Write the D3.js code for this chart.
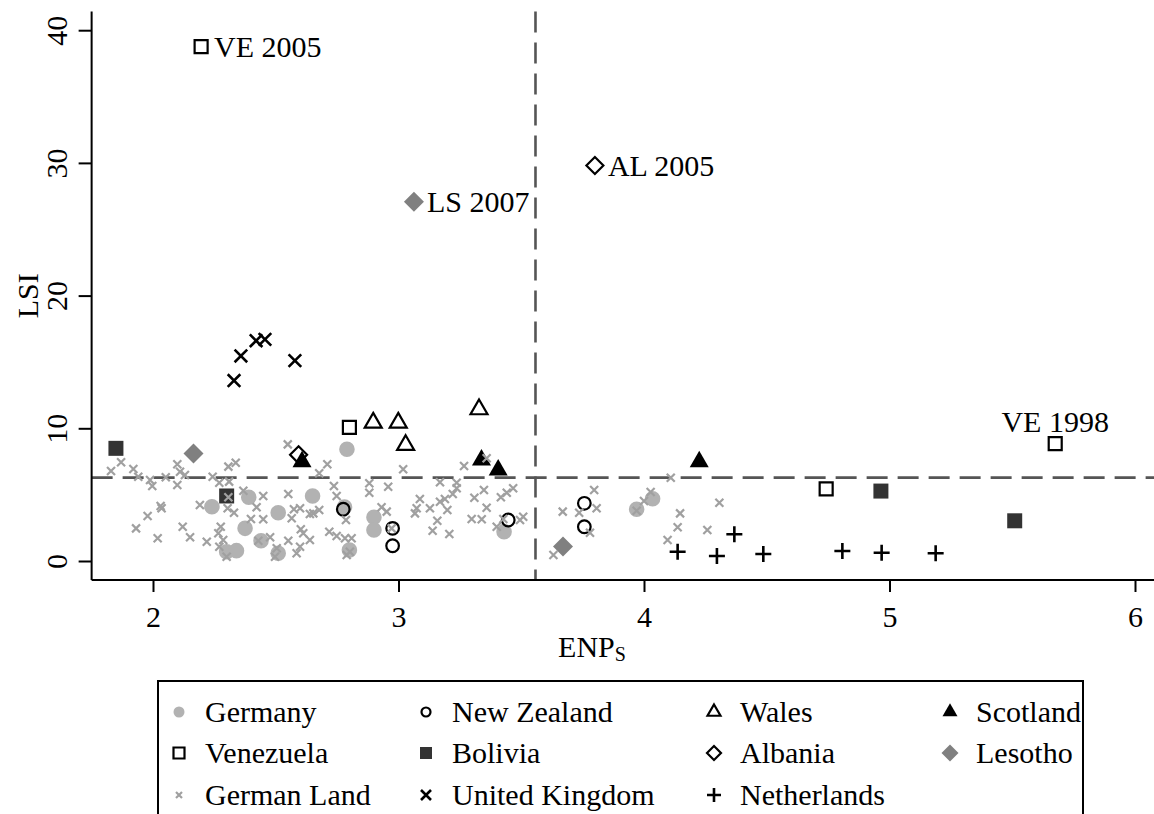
<!DOCTYPE html>
<html>
<head>
<meta charset="utf-8">
<script src="https://cdn.jsdelivr.net/npm/d3@7/dist/d3.min.js"></script>
<style>
  html, body { margin: 0; padding: 0; background: #fff; }
  svg { display: block; }
  text { font-family: "Liberation Serif", "Times New Roman", serif; fill: #000; }
</style>
</head>
<body>
<svg id="chart" width="1154" height="814"></svg>
<script>
// ---------------- DATA ----------------
const xTicks = [2, 3, 4, 5, 6];
const yTicks = [0, 10, 20, 30, 40];
const xLabel = "ENP";
const xLabelSub = "S";
const yLabel = "LSI";
const refENP = 3.558;   // vertical dashed reference line
const refLSI = 6.28;    // horizontal dashed reference line

const germany = [[2.24,4.09],[2.39,4.80],[2.375,2.46],[2.30,0.70],[2.34,0.78],[2.44,1.53],[2.51,0.58],
  [2.51,3.64],[2.65,4.90],[2.79,8.42],[2.78,4.07],[2.80,0.83],[2.90,3.29],[2.90,2.34],[3.43,2.21],
  [3.97,3.90],[4.035,4.69]];
const newZealand = [[2.775,3.90],[2.976,2.46],[2.976,1.15],[3.447,3.09],[3.757,4.35],[3.757,2.58]];
const wales = [[2.897,10.42],[2.999,10.42],[3.328,11.43],[3.029,8.74]];
const scotland = [[2.607,7.48],[3.338,7.61],[3.406,6.86],[4.225,7.48]];
const venezuela = [[2.196,38.76],[2.80,10.07],[4.742,5.43],[5.675,8.84]];
const bolivia = [[1.849,8.49],[2.30,4.90],[4.965,5.27],[5.51,3.03]];
const albania = [[2.593,8.0],[3.80,29.8]];
const lesotho = [[2.165,8.1],[3.063,27.08],[3.67,1.1]];
const unitedKingdom = [[2.33,13.6],[2.358,15.45],[2.42,16.6],[2.456,16.7],[2.578,15.1]];
const netherlands = [[4.137,0.70],[4.297,0.38],[4.368,2.02],[4.486,0.53],[4.808,0.75],[4.968,0.62],[5.188,0.58]];
const germanLand = [[1.870,7.44],[1.829,6.78],[1.920,6.93],[1.940,6.35],[1.988,6.10],[1.997,5.65],[2.052,6.31],
  [2.099,7.29],[2.110,6.73],[2.130,6.48],[2.099,5.73],[2.243,6.35],[2.270,5.90],[2.307,7.11],[2.337,7.41],
  [2.310,5.98],[2.368,5.30],[2.031,4.14],[2.035,3.97],[1.978,3.39],[1.931,2.46],[2.019,1.71],[2.121,2.58],
  [2.151,1.79],[2.191,4.22],[2.219,1.45],[2.276,2.58],[2.266,2.09],[2.286,1.58],[2.304,3.97],[2.330,3.64],
  [2.307,4.80],[2.449,4.90],[2.422,4.05],[2.399,3.17],[2.449,3.14],[2.270,1.08],[2.300,0.32],[2.429,1.53],
  [2.477,1.79],[2.504,0.96],[2.497,0.32],[2.551,5.05],[2.551,1.53],[2.565,3.22],[2.574,3.90],[2.599,3.97],
  [2.602,2.39],[2.612,2.09],[2.639,1.58],[2.599,1.08],[2.585,0.58],[2.639,3.54],[2.677,3.84],[2.653,3.59],
  [2.677,6.61],[2.710,7.29],[2.549,8.79],[2.737,5.65],[2.748,4.90],[2.718,2.21],[2.748,1.88],[2.786,3.09],
  [2.782,1.71],[2.789,0.45],[3.019,6.91],[3.267,7.16],[3.359,7.74],[2.881,5.86],[2.881,5.15],[2.958,5.60],
  [3.169,5.93],[3.237,5.90],[3.237,5.48],[3.221,5.05],[3.087,4.67],[3.189,4.67],[3.169,4.47],[3.074,3.97],
  [3.067,3.59],[3.128,3.97],[3.199,3.84],[2.931,4.05],[2.952,3.72],[3.158,3.04],[3.139,2.28],[3.207,2.03],
  [3.309,4.77],[3.348,5.35],[3.359,4.02],[3.417,4.80],[3.441,5.15],[3.467,5.48],[3.298,3.17],[3.339,3.14],
  [3.400,2.58],[3.427,3.17],[3.495,3.09],[3.508,3.34],[2.809,1.71],[2.802,0.70],[2.972,2.46],[3.631,0.45],
  [3.797,5.35],[3.669,3.72],[3.736,3.64],[3.807,3.97],[3.780,2.13],[3.970,3.79],[4.000,4.52],[4.027,5.20],
  [4.109,6.28],[4.147,3.59],[4.137,2.54],[4.096,1.58],[4.258,2.34],[4.307,4.39]];

const annotations = [
  {text: "VE 2005", x: 2.196, y: 38.76, pos: "right"},
  {text: "LS 2007", x: 3.063, y: 27.08, pos: "right"},
  {text: "AL 2005", x: 3.80, y: 29.8, pos: "right"},
  {text: "VE 1998", x: 5.675, y: 8.84, pos: "above"}
];

const legendNames = ["Germany","New Zealand","Wales","Scotland","Venezuela","Bolivia","Albania","Lesotho",
  "German Land","United Kingdom","Netherlands"];

// ---------------- STYLES ----------------
const styles = {
  "Germany":        {shape: "circle",  size: 7.8, fill: "#b2b2b2", stroke: "none", sw: 0, lsize: 5.5},
  "New Zealand":    {shape: "circle",  size: 6.3, fill: "none", stroke: "#000", sw: 2.2, lsize: 4.5},
  "Wales":          {shape: "triangle",size: 8.5, fill: "none", stroke: "#000", sw: 2.2, lsize: 6.5},
  "Scotland":       {shape: "triangle",size: 9.5, fill: "#000", stroke: "none", sw: 0, lsize: 7.5},
  "Venezuela":      {shape: "square",  size: 6.5, fill: "none", stroke: "#000", sw: 2.2, lsize: 5.5},
  "Bolivia":        {shape: "square",  size: 7.5, fill: "#333", stroke: "none", sw: 0, lsize: 6},
  "Albania":        {shape: "diamond", size: 8.5, fill: "none", stroke: "#000", sw: 2.2, lsize: 7},
  "Lesotho":        {shape: "diamond", size: 10,  fill: "#808080", stroke: "none", sw: 0, lsize: 8.5},
  "German Land":    {shape: "x",       size: 4,   fill: "none", stroke: "#a0a0a0", sw: 2.2, lsize: 3},
  "United Kingdom": {shape: "x",       size: 6.3, fill: "none", stroke: "#000", sw: 2.6, lsize: 5},
  "Netherlands":    {shape: "plus",    size: 8,   fill: "none", stroke: "#000", sw: 2.6, lsize: 7}
};

function shapePath(shape, s) {
  switch (shape) {
    case "circle": return `M${s},0A${s},${s},0,1,1,${-s},0A${s},${s},0,1,1,${s},0Z`;
    case "square": return `M${-s},${-s}H${s}V${s}H${-s}Z`;
    case "triangle": { const h = s * 1.732; return `M0,${-h*2/3}L${s},${h/3}L${-s},${h/3}Z`; }
    case "diamond": return `M0,${-s}L${s},0L0,${s}L${-s},0Z`;
    case "x": return `M${-s},${-s}L${s},${s}M${-s},${s}L${s},${-s}`;
    case "plus": return `M${-s},0H${s}M0,${-s}V${s}`;
  }
}

// ---------------- CHART ----------------
const svg = d3.select("#chart");
const x = d3.scaleLinear().domain([2, 6]).range([153, 1135]);
const y = d3.scaleLinear().domain([0, 40]).range([561, 30.2]);
const xMin = 1.75, xMax = 6.08, yMin = -1.43, yMax = 41.4;

const FS = 30;

// reference lines
svg.append("line")
  .attr("x1", x(xMin)).attr("x2", x(xMax)).attr("y1", y(refLSI)).attr("y2", y(refLSI))
  .attr("stroke", "#555").attr("stroke-width", 2.6).attr("stroke-dasharray", "21,10");
svg.append("line")
  .attr("x1", x(refENP)).attr("x2", x(refENP)).attr("y1", y(yMax)).attr("y2", y(yMin))
  .attr("stroke", "#555").attr("stroke-width", 2.6).attr("stroke-dasharray", "21,10");

// axes
const xAxis = d3.axisBottom(x).tickValues(xTicks).tickSize(12).tickSizeOuter(0).tickPadding(14).tickFormat(d3.format("d"));
const gx = svg.append("g").attr("transform", `translate(0,${y(yMin)})`).call(xAxis);
gx.select(".domain").remove();
gx.selectAll(".tick line").attr("stroke", "#000").attr("stroke-width", 2);
gx.selectAll(".tick text").attr("font-size", FS).attr("font-family", "Liberation Serif").attr("fill", "#000");
svg.append("line").attr("x1", x(xMin)).attr("x2", x(xMax)).attr("y1", y(yMin)).attr("y2", y(yMin))
  .attr("stroke", "#000").attr("stroke-width", 2);

const yAxis = d3.axisLeft(y).tickValues(yTicks).tickSize(13).tickSizeOuter(0).tickFormat(d3.format("d"));
const gy = svg.append("g").attr("transform", `translate(${x(xMin)},0)`).call(yAxis);
gy.select(".domain").remove();
gy.selectAll(".tick line").attr("stroke", "#000").attr("stroke-width", 2);
gy.selectAll(".tick text")
  .attr("font-size", FS).attr("font-family", "Liberation Serif").attr("fill", "#000")
  .attr("x", null).attr("dy", null)
  .attr("text-anchor", "middle")
  .attr("transform", "translate(-25,0) rotate(-90)");
svg.append("line").attr("x1", x(xMin)).attr("x2", x(xMin)).attr("y1", y(yMin)).attr("y2", y(yMax))
  .attr("stroke", "#000").attr("stroke-width", 2);

// axis titles
const xt = svg.append("text").attr("x", 592).attr("y", 657)
  .attr("text-anchor", "middle").attr("font-size", FS);
xt.append("tspan").text(xLabel);
xt.append("tspan").text(xLabelSub).attr("font-size", 20).attr("dy", 4);
svg.append("text").attr("transform", `translate(38,${(y(yMin) + y(yMax)) / 2}) rotate(-90)`)
  .attr("text-anchor", "middle").attr("font-size", FS).text(yLabel);

// series
const seriesData = {
  "Germany": germany, "New Zealand": newZealand, "Wales": wales, "Scotland": scotland,
  "Venezuela": venezuela, "Bolivia": bolivia, "Albania": albania, "Lesotho": lesotho,
  "United Kingdom": unitedKingdom, "Netherlands": netherlands, "German Land": germanLand
};
const drawOrder = ["Germany","New Zealand","Wales","Scotland","Venezuela","Bolivia","Albania","Lesotho",
  "United Kingdom","Netherlands","German Land"];

drawOrder.forEach(name => {
  const st = styles[name];
  svg.append("g").selectAll("path").data(seriesData[name]).join("path")
    .attr("transform", d => `translate(${x(d[0])},${y(d[1])})`)
    .attr("d", shapePath(st.shape, st.size))
    .attr("fill", st.fill).attr("stroke", st.stroke).attr("stroke-width", st.sw)
    .attr("stroke-linejoin", "miter");
});

// annotations
svg.append("g").selectAll("text").data(annotations).join("text")
  .attr("x", d => d.pos === "right" ? x(d.x) + 13 : x(d.x))
  .attr("y", d => d.pos === "right" ? y(d.y) + 10 : y(d.y) - 12)
  .attr("text-anchor", d => d.pos === "right" ? "start" : "middle")
  .attr("font-size", FS)
  .text(d => d.text);

// legend
const legend = svg.append("g");
legend.append("rect").attr("x", 158).attr("y", 681).attr("width", 925).attr("height", 160)
  .attr("fill", "none").attr("stroke", "#000").attr("stroke-width", 2);
const colX = [179, 426, 714, 950];
const rowY = [712, 753, 795];
legendNames.forEach((name, i) => {
  const c = i % 4, r = Math.floor(i / 4);
  const st = styles[name];
  legend.append("path")
    .attr("transform", `translate(${colX[c]},${rowY[r]})`)
    .attr("d", shapePath(st.shape, st.lsize))
    .attr("fill", st.fill).attr("stroke", st.stroke).attr("stroke-width", st.sw);
  legend.append("text").attr("x", colX[c] + 26).attr("y", rowY[r] + 10)
    .attr("font-size", FS).text(name);
});
</script>
</body>
</html>
